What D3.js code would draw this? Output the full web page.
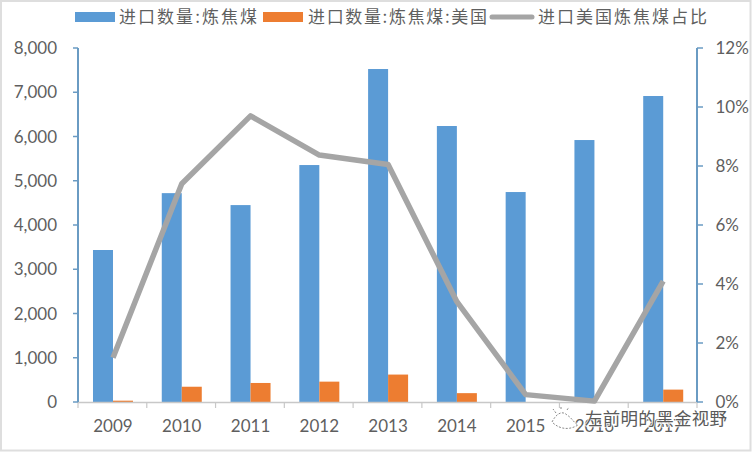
<!DOCTYPE html>
<html><head><meta charset="utf-8">
<script src="https://cdn.jsdelivr.net/npm/d3@7"></script>
<style>
html,body{margin:0;padding:0;background:#fff}
svg{display:block}
text{font-family:Lato,"Noto Sans CJK SC",sans-serif;fill:#5f5f5f}
.cjk{font-family:"Noto Sans CJK SC",sans-serif}
</style></head><body>
<svg id="c" width="752" height="452"></svg>
<script>
const years=["2009","2010","2011","2012","2013","2014","2015","2016","2017"];
const totalImports=[3435,4720,4450,5355,7525,6237,4745,5920,6915];
const usImports=[30,345,430,460,620,200,0,0,280];
const usShare=[1.5,7.4,9.7,8.37,8.05,3.4,0.25,0.03,4.1];
const leftTicks=[0,1000,2000,3000,4000,5000,6000,7000,8000];
const rightTicks=[0,2,4,6,8,10,12];
const seriesNames=["进口数量:炼焦煤","进口数量:炼焦煤:美国","进口美国炼焦煤占比"];
const watermark="左前明的黑金视野";

const BLUE="#5b9bd5",ORANGE="#ed7d31",GREY="#a5a5a5",AXIS="#6a9bc3";
const svg=d3.select("#c");
const L=78,R=697,T=48,B=402,FS=17;
svg.append("rect").attr("x",1).attr("y",1).attr("width",749.5).attr("height",449.5)
  .attr("fill","#fff").attr("stroke","#dedede").attr("stroke-width",2);

const x=d3.scaleBand().domain(years).range([L+0.6,R+0.6]).paddingInner(0).paddingOuter(0);
const yL=d3.scaleLinear().domain([0,8000]).range([B,T]);
const yR=d3.scaleLinear().domain([0,12]).range([B,T]);
const bw=20;

svg.append("g").selectAll("rect").data(years).join("rect")
  .attr("x",d=>x(d)+x.bandwidth()/2-bw).attr("width",bw)
  .attr("y",(d,i)=>yL(totalImports[i])).attr("height",(d,i)=>B-yL(totalImports[i])).attr("fill",BLUE);
svg.append("g").selectAll("rect").data(years).join("rect")
  .attr("x",d=>x(d)+x.bandwidth()/2).attr("width",bw)
  .attr("y",(d,i)=>yL(usImports[i])).attr("height",(d,i)=>B-yL(usImports[i])).attr("fill",ORANGE);

// x axis
const gx=svg.append("g").attr("transform",`translate(0,${B})`);
gx.append("line").attr("x1",L).attr("x2",R).attr("y1",0.5).attr("y2",0.5).attr("stroke","#c8c8c8").attr("stroke-width",1.5);
gx.selectAll("line.t").data(d3.range(years.length+1)).join("line").attr("class","t")
  .attr("x1",i=>L+i*x.step()).attr("x2",i=>L+i*x.step()).attr("y1",0).attr("y2",6)
  .attr("stroke","#c8c8c8").attr("stroke-width",1.2);
gx.selectAll("text").data(years).join("text")
  .attr("x",d=>x(d)+x.bandwidth()/2).attr("y",30).attr("text-anchor","middle")
  .attr("font-size",FS).text(d=>d);

// left axis
const gl=svg.append("g");
gl.append("line").attr("x1",L).attr("x2",L).attr("y1",T).attr("y2",B).attr("stroke",AXIS).attr("stroke-width",2);
gl.selectAll("line.t").data(leftTicks).join("line").attr("class","t")
  .attr("x1",L-5).attr("x2",L).attr("y1",d=>yL(d)).attr("y2",d=>yL(d)).attr("stroke",AXIS).attr("stroke-width",1.5);
gl.selectAll("text").data(leftTicks).join("text")
  .attr("x",57).attr("y",d=>yL(d)+6).attr("text-anchor","end").attr("font-size",FS)
  .text(d=>d3.format(",")(d));

// right axis
const gr=svg.append("g");
gr.append("line").attr("x1",R).attr("x2",R).attr("y1",T).attr("y2",B).attr("stroke",AXIS).attr("stroke-width",2);
gr.selectAll("line.t").data(rightTicks).join("line").attr("class","t")
  .attr("x1",R).attr("x2",R+6).attr("y1",d=>yR(d)).attr("y2",d=>yR(d)).attr("stroke",AXIS).attr("stroke-width",1.5);
gr.selectAll("text").data(rightTicks).join("text")
  .attr("x",715.5).attr("y",d=>yR(d)+6).attr("font-size",FS).text(d=>d+"%");

// line
const line=d3.line().x((d,i)=>x(years[i])+x.bandwidth()/2).y(d=>yR(d));
svg.append("path").attr("d",line(usShare)).attr("fill","none").attr("stroke",GREY)
  .attr("stroke-width",5.5).attr("stroke-linejoin","round").attr("stroke-linecap","butt");

// legend
const lg=svg.append("g");
lg.append("rect").attr("x",75).attr("y",12).attr("width",40).attr("height",10).attr("fill",BLUE);
lg.append("text").attr("class","cjk").attr("x",119).attr("y",23).attr("font-size",17).attr("textLength",138).text(seriesNames[0]);
lg.append("rect").attr("x",263).attr("y",12).attr("width",40).attr("height",10).attr("fill",ORANGE);
lg.append("text").attr("class","cjk").attr("x",308).attr("y",23).attr("font-size",17).attr("textLength",179).text(seriesNames[1]);
lg.append("line").attr("x1",492).attr("x2",532).attr("y1",17).attr("y2",17).attr("stroke",GREY).attr("stroke-width",5).attr("stroke-linecap","round");
lg.append("text").attr("class","cjk").attr("x",538).attr("y",23).attr("font-size",17).attr("textLength",169).text(seriesNames[2]);

// watermark
const wm=svg.append("g");
wm.append("path").attr("d","M552 422 C556 414 562 410 567 415 C572 418 574 423 578 425 C570 430 560 430 552 422 M556 413 L553 409 M561 409 L561 406 M567 410 L569 407")
  .attr("fill","none").attr("stroke","#8a8a8a").attr("stroke-width",1).attr("stroke-dasharray","2 1.5");
wm.append("text").attr("class","cjk").attr("x",585).attr("y",425).attr("font-size",17.5)
  .attr("textLength",142).attr("stroke","#fff").attr("stroke-width",2).attr("stroke-opacity",0.75).attr("paint-order","stroke")
  .style("fill","#5a5a5a").text(watermark);
</script></body></html>
